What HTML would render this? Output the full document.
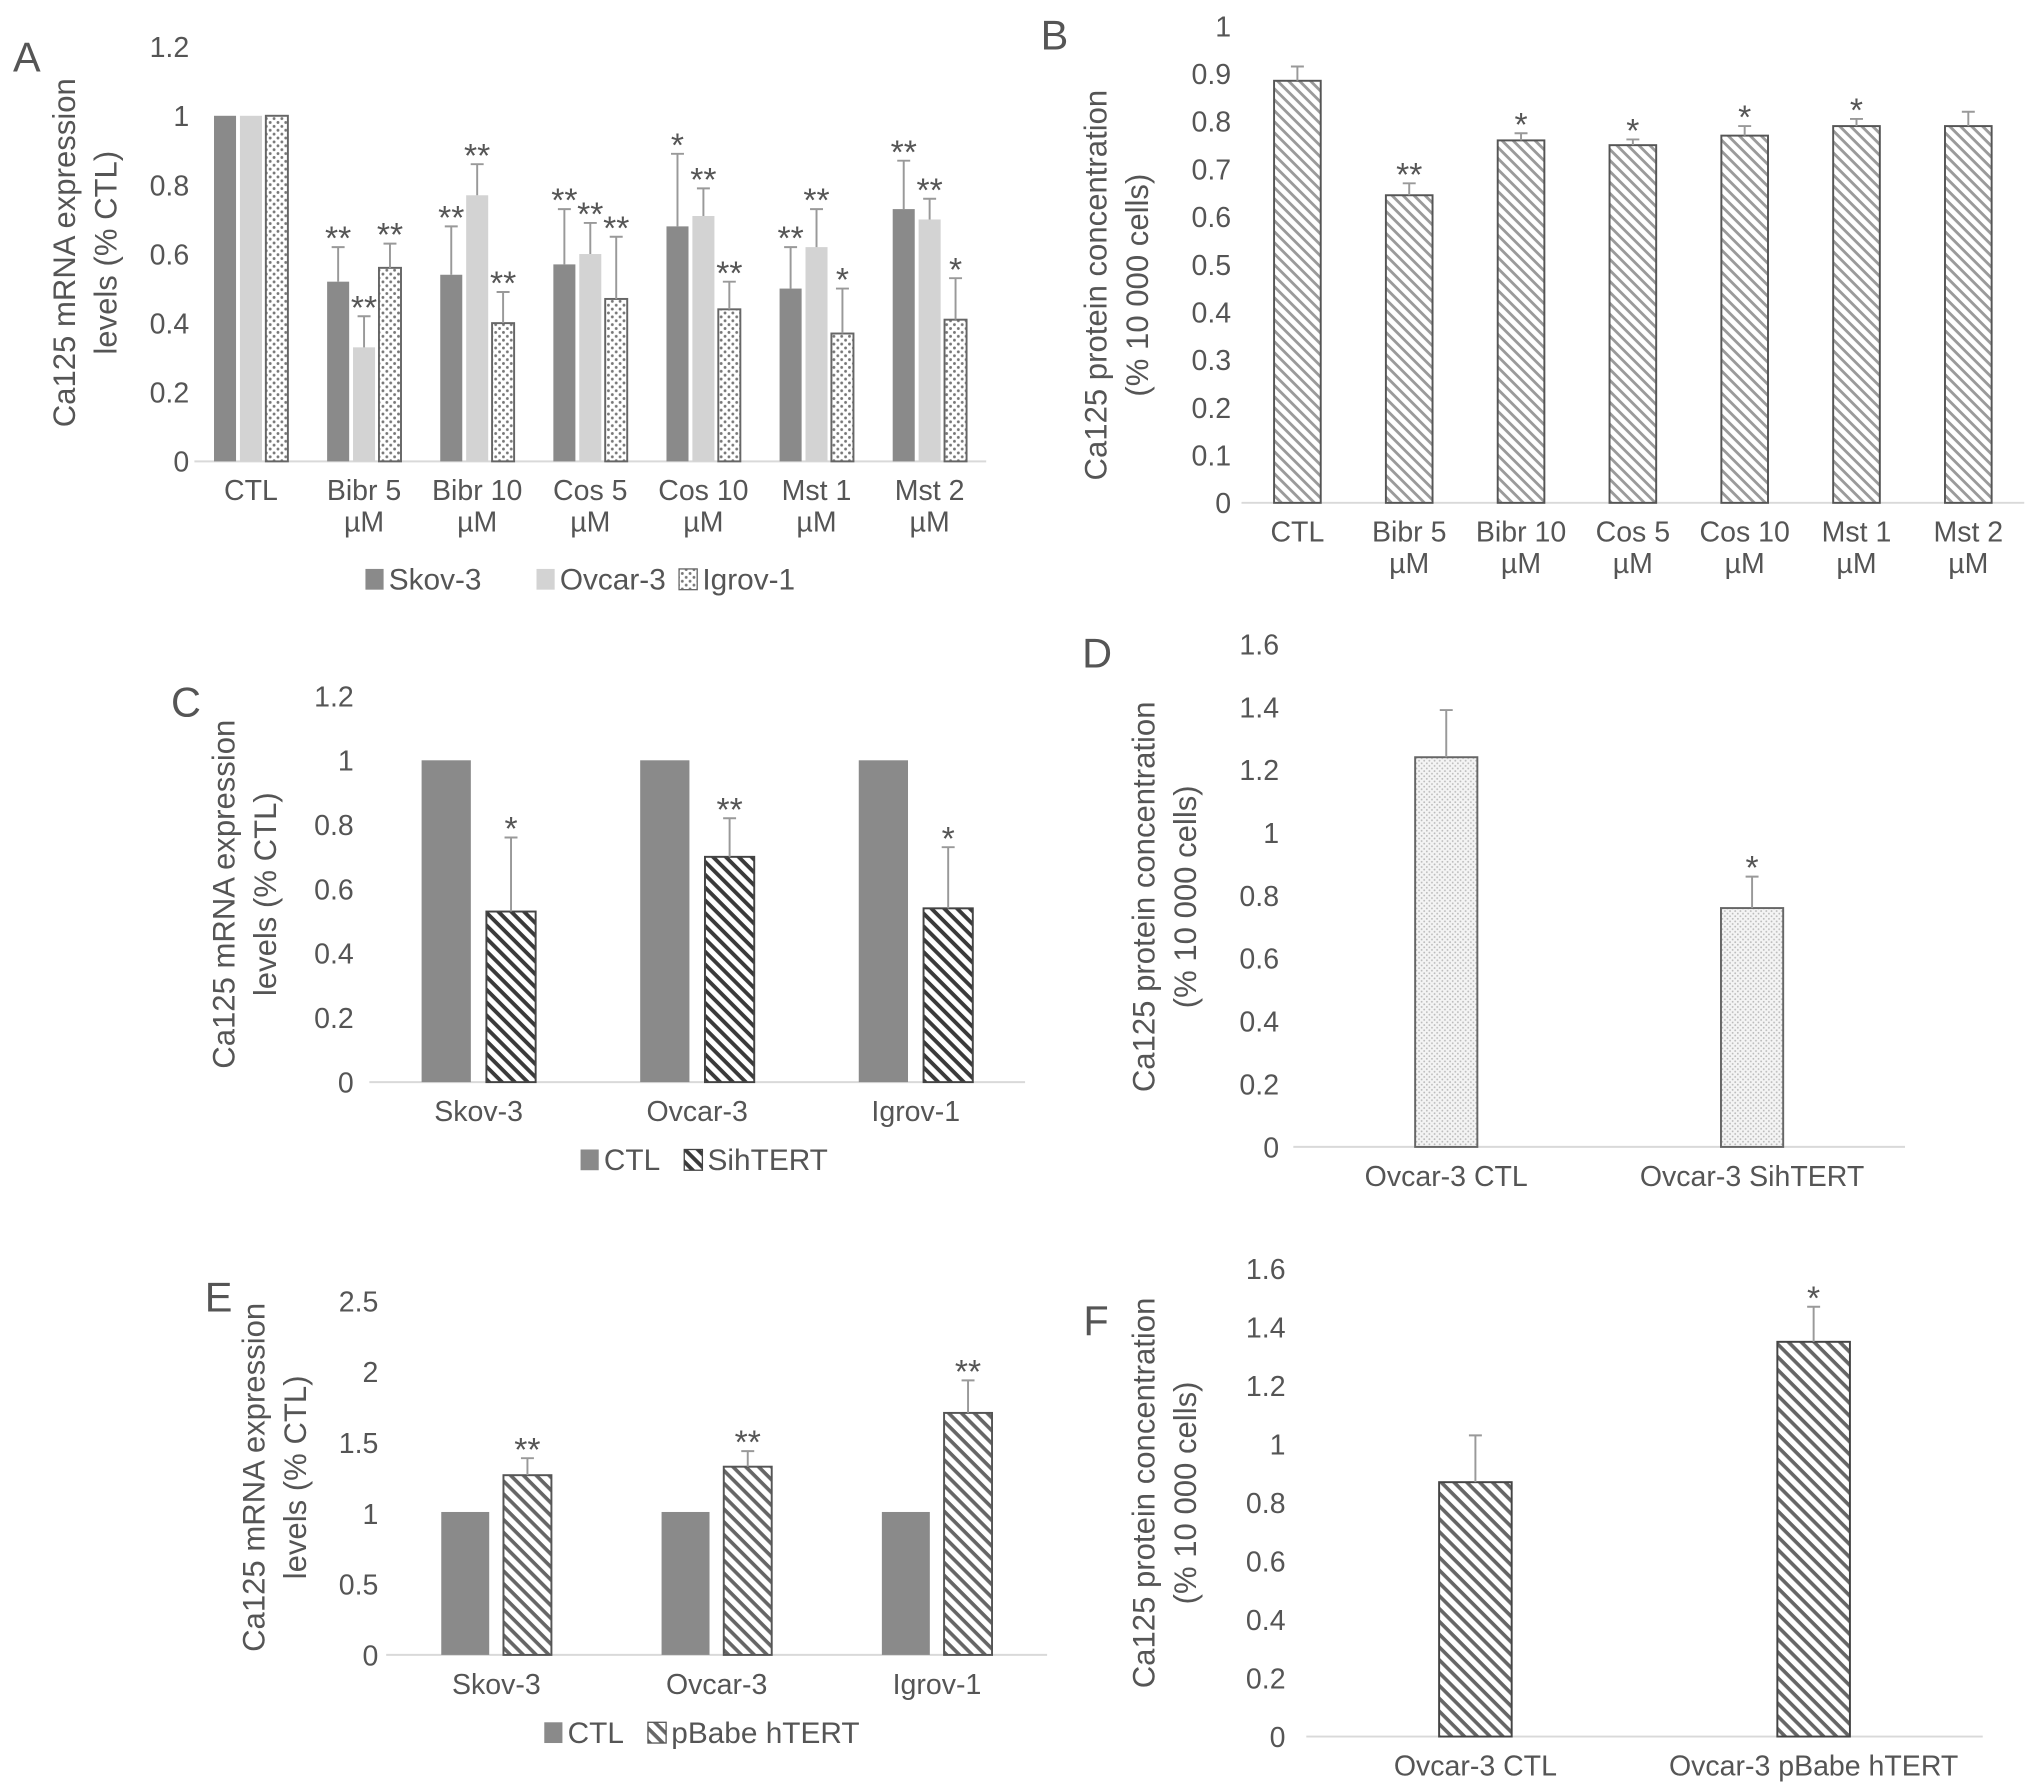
<!DOCTYPE html>
<html><head><meta charset="utf-8"><style>
html,body{margin:0;padding:0;background:#fff}
svg{display:block}
text{font-family:"Liberation Sans",sans-serif;fill:#555}
</style></head><body>
<svg id="fig" width="2032" height="1791" viewBox="0 0 1568 1382" xmlns="http://www.w3.org/2000/svg">
<defs>
<pattern id="hatchLight" patternUnits="userSpaceOnUse" width="6" height="6" patternTransform="rotate(45)"><rect width="6" height="6" fill="#fff"/><rect x="0" y="0" width="6" height="2.2" fill="#9a9a9a"/></pattern>
<pattern id="hatchDark" patternUnits="userSpaceOnUse" width="7" height="7" patternTransform="rotate(45)"><rect width="7" height="7" fill="#fff"/><rect x="0" y="0" width="7" height="3" fill="#3a3a3a"/></pattern>
<pattern id="hatchMid" patternUnits="userSpaceOnUse" width="7" height="7" patternTransform="rotate(45)"><rect width="7" height="7" fill="#fff"/><rect x="0" y="0" width="7" height="2.8" fill="#666"/></pattern>
<pattern id="dots" patternUnits="userSpaceOnUse" width="6" height="6"><rect width="6" height="6" fill="#fff"/><circle cx="1.5" cy="1.5" r="1.1" fill="#777"/><circle cx="4.5" cy="4.5" r="1.1" fill="#777"/></pattern>
<pattern id="fineDots" patternUnits="userSpaceOnUse" width="4" height="4"><rect width="4" height="4" fill="#f4f4f4"/><circle cx="1" cy="1" r="0.7" fill="#bbb"/><circle cx="3" cy="3" r="0.7" fill="#bbb"/></pattern>
</defs>
</svg>
<script>
// Panel A data
const aCats = [["CTL"],["Bibr 5","µM"],["Bibr 10","µM"],["Cos 5","µM"],["Cos 10","µM"],["Mst 1","µM"],["Mst 2","µM"]];
const aSkov = [1, 0.52, 0.54, 0.57, 0.68, 0.50, 0.73];
const aOvcar = [1, 0.33, 0.77, 0.60, 0.71, 0.62, 0.70];
const aIgrov = [1, 0.56, 0.40, 0.47, 0.44, 0.37, 0.41];
const aSkovErr = [1, 0.62, 0.68, 0.73, 0.89, 0.62, 0.87];
const aOvcarErr = [1, 0.42, 0.86, 0.69, 0.79, 0.73, 0.76];
const aIgrovErr = [1, 0.63, 0.49, 0.65, 0.52, 0.50, 0.53];
const aSkovSig = ["", "**", "**", "**", "*", "**", "**"];
const aOvcarSig = ["", "**", "**", "**", "**", "**", "**"];
const aIgrovSig = ["", "**", "**", "**", "**", "*", "*"];
const aTicks = ["0","0.2","0.4","0.6","0.8","1","1.2"];
// Panel B data
const bCats = [["CTL"],["Bibr 5","µM"],["Bibr 10","µM"],["Cos 5","µM"],["Cos 10","µM"],["Mst 1","µM"],["Mst 2","µM"]];
const bVals = [0.885, 0.645, 0.76, 0.75, 0.77, 0.79, 0.79];
const bErr = [0.915, 0.67, 0.775, 0.762, 0.79, 0.805, 0.82];
const bSig = ["", "**", "*", "*", "*", "*", ""];
const bTicks = ["0","0.1","0.2","0.3","0.4","0.5","0.6","0.7","0.8","0.9","1"];
// Panel C data
const cCats = [["Skov-3"],["Ovcar-3"],["Igrov-1"]];
const cCtl = [1, 1, 1];
const cSih = [0.53, 0.70, 0.54];
const cCtlErr = [1, 1, 1];
const cSihErr = [0.76, 0.82, 0.73];
const cSihSig = ["*", "**", "*"];
const cTicks = ["0","0.2","0.4","0.6","0.8","1","1.2"];
// Panel D data
const dCats = [["Ovcar-3 CTL"],["Ovcar-3 SihTERT"]];
const dVals = [1.24, 0.76];
const dErr = [1.39, 0.86];
const dSig = ["", "*"];
const dTicks = ["0","0.2","0.4","0.6","0.8","1","1.2","1.4","1.6"];
// Panel E data
const eCats = [["Skov-3"],["Ovcar-3"],["Igrov-1"]];
const eCtl = [1.01, 1.01, 1.01];
const ePb = [1.27, 1.33, 1.71];
const eCtlErr = [1.01, 1.01, 1.01];
const ePbErr = [1.39, 1.44, 1.94];
const ePbSig = ["**", "**", "**"];
const eTicks = ["0","0.5","1","1.5","2","2.5"];
// Panel F data
const fCats = [["Ovcar-3 CTL"],["Ovcar-3 pBabe hTERT"]];
const fVals = [0.87, 1.35];
const fErr = [1.03, 1.47];
const fSig = ["", "*"];
const fTicks = ["0","0.2","0.4","0.6","0.8","1","1.2","1.4","1.6"];

const NS = "http://www.w3.org/2000/svg";
const svg = document.getElementById("fig");
function mk(tag, attrs, parent, txt) {
  const e = document.createElementNS(NS, tag);
  for (const k in attrs) e.setAttribute(k, attrs[k]);
  if (txt !== undefined) e.textContent = txt;
  (parent || svg).appendChild(e);
  return e;
}

function panel(p) {
  const g = mk("g", {});
  
  
  const yMax = parseFloat(p.ticks[p.ticks.length - 1]);
  const y = v => p.y0 - (v / yMax) * (p.y0 - p.yTop);
  const catW = (p.x1 - p.x0) / p.cats.length;
  const cx = i => p.x0 + catW * (i + 0.5);
  const ax = mk("line", {x1: p.x0, x2: p.x1, y1: p.y0, y2: p.y0, stroke: "#d9d9d9", "stroke-width": 1.5}, g);
  
  
  p.ticks.forEach(t => {
    const tt = mk("text", {x: p.tickX, y: y(parseFloat(t)) + 8, "text-anchor": "end", "font-size": 22}, g, t);
    
    
  });
  p.cats.forEach((c, i) => {
    c.forEach((line, j) => {
      const tl = mk("text", {x: cx(i), y: p.y0 + 30 + j * 24, "text-anchor": "middle", "font-size": 22}, g, line);
      
      
    });
  });
  const n = p.series.length;
  p.series.forEach((s, si) => {
    const off = (si - (n - 1) / 2) * (p.barW + p.gap);
    s.vals.forEach((v, i) => {
      const bx = cx(i) + off - p.barW / 2;
      const r = mk("rect", {x: bx, y: y(v), width: p.barW, height: p.y0 - y(v), fill: s.fill, stroke: s.stroke || "none", "stroke-width": s.stroke ? 1.5 : 0}, g);
      
      
      const e = s.err[i];
      if (e > v + 0.001) {
        const mx = bx + p.barW / 2;
        const el = mk("path", {d: `M${mx},${y(v)}V${y(e)}M${mx - 5},${y(e)}H${mx + 5}`, stroke: "#999", "stroke-width": 1.5, fill: "none"}, g);
        
        
      }
      if (s.sig && s.sig[i]) {
        const st = mk("text", {x: bx + p.barW / 2, y: y(e) + 2, "text-anchor": "middle", "font-size": 26, fill: "#8a8a8a"}, g, s.sig[i]);
        
        
      }
    });
  });
  p.ytitle.forEach((line, j) => {
    const tx = p.ytitleX + j * 32;
    const yt = mk("text", {x: tx, y: p.ytitleY, "text-anchor": "middle", "font-size": 24, transform: `rotate(-90 ${tx} ${p.ytitleY})`}, g, line);
    
    
  });
  const lt = mk("text", {x: p.letter[0], y: p.letter[1], "font-size": 32, fill: "#222"}, g, p.letter[2]);
  
  
  if (p.legend) {
    p.legend.forEach(l => {
      const sw = mk("rect", {x: l.x, y: p.legendY - 16, width: 14, height: 16, fill: l.fill, stroke: l.stroke || "none", "stroke-width": 1}, g);
      
      
      const lx = mk("text", {x: l.x + 18, y: p.legendY, "font-size": 23}, g, l.label);
      
      
    });
  }
}

panel({name: "panel-a-chart", letter: [10, 55, "A"], x0: 150, x1: 761, y0: 356, yTop: 36, tickX: 146, ticks: aTicks, cats: aCats,
  barW: 17, gap: 3,
  series: [
    {key: "skov", vals: aSkov, err: aSkovErr, sig: aSkovSig, fill: "#8a8a8a"},
    {key: "ovcar", vals: aOvcar, err: aOvcarErr, sig: aOvcarSig, fill: "#d3d3d3"},
    {key: "igrov", vals: aIgrov, err: aIgrovErr, sig: aIgrovSig, fill: "url(#dots)", stroke: "#666"}],
  ytitle: ["Ca125 mRNA expression", "levels (% CTL)"], ytitleX: 58, ytitleY: 195,
  legend: [{x: 282, fill: "#8a8a8a", label: "Skov-3"}, {x: 414, fill: "#d3d3d3", label: "Ovcar-3"}, {x: 524, fill: "url(#dots)", stroke: "#666", label: "Igrov-1"}], legendY: 455});

panel({name: "panel-b-chart", letter: [803, 38, "B"], x0: 958, x1: 1562, y0: 388, yTop: 20, tickX: 950, ticks: bTicks, cats: bCats,
  barW: 36, gap: 0,
  series: [{key: "ca125", vals: bVals, err: bErr, sig: bSig, fill: "url(#hatchLight)", stroke: "#555"}],
  ytitle: ["Ca125 protein concentration", "(% 10 000 cells)"], ytitleX: 854, ytitleY: 220});

panel({name: "panel-c-chart", letter: [132, 553, "C"], x0: 285, x1: 791, y0: 835, yTop: 537, tickX: 273, ticks: cTicks, cats: cCats,
  barW: 38, gap: 12,
  series: [
    {key: "ctl", vals: cCtl, err: cCtlErr, sig: null, fill: "#8a8a8a"},
    {key: "sihtert", vals: cSih, err: cSihErr, sig: cSihSig, fill: "url(#hatchDark)", stroke: "#444"}],
  ytitle: ["Ca125 mRNA expression", "levels (% CTL)"], ytitleX: 181, ytitleY: 690,
  legend: [{x: 448, fill: "#8a8a8a", label: "CTL"}, {x: 528, fill: "url(#hatchDark)", stroke: "#444", label: "SihTERT"}], legendY: 903});

panel({name: "panel-d-chart", letter: [835, 515, "D"], x0: 998, x1: 1470, y0: 885, yTop: 497, tickX: 987, ticks: dTicks, cats: dCats,
  barW: 48, gap: 0,
  series: [{key: "ca125", vals: dVals, err: dErr, sig: dSig, fill: "url(#fineDots)", stroke: "#666"}],
  ytitle: ["Ca125 protein concentration", "(% 10 000 cells)"], ytitleX: 891, ytitleY: 692});

panel({name: "panel-e-chart", letter: [158, 1012, "E"], x0: 298, x1: 808, y0: 1277, yTop: 1004, tickX: 292, ticks: eTicks, cats: eCats,
  barW: 37, gap: 11,
  series: [
    {key: "ctl", vals: eCtl, err: eCtlErr, sig: null, fill: "#8a8a8a"},
    {key: "pbabe", vals: ePb, err: ePbErr, sig: ePbSig, fill: "url(#hatchMid)", stroke: "#555"}],
  ytitle: ["Ca125 mRNA expression", "levels (% CTL)"], ytitleX: 204, ytitleY: 1140,
  legend: [{x: 420, fill: "#8a8a8a", label: "CTL"}, {x: 500, fill: "url(#hatchMid)", stroke: "#555", label: "pBabe hTERT"}], legendY: 1345});

panel({name: "panel-f-chart", letter: [836, 1030, "F"], x0: 1008, x1: 1530, y0: 1340, yTop: 979, tickX: 992, ticks: fTicks, cats: fCats,
  barW: 56, gap: 0,
  series: [{key: "ca125", vals: fVals, err: fErr, sig: fSig, fill: "url(#hatchMid)", stroke: "#444"}],
  ytitle: ["Ca125 protein concentration", "(% 10 000 cells)"], ytitleX: 891, ytitleY: 1152});
</script>
</body></html>
